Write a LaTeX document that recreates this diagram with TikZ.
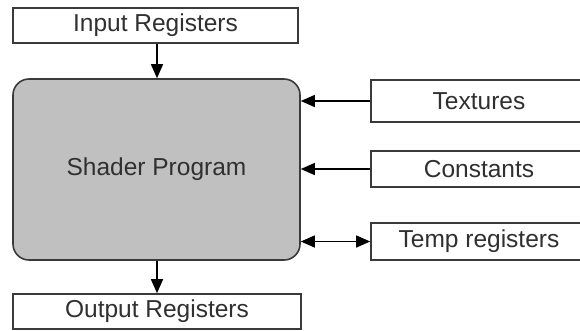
\documentclass[tikz,border=0pt]{standalone}
\usepackage{fontspec}
\setmainfont{Liberation Sans}
\usepackage{tikz}
\usetikzlibrary{arrows.meta}
\definecolor{boxline}{HTML}{3A3A3A}
\definecolor{progfill}{HTML}{C0C0C0}
\definecolor{labeltext}{HTML}{303030}

\begin{document}
\begin{tikzpicture}[x=1pt, y=-1pt,
  regbox/.style={draw=boxline, line width=1.6pt, fill=white, inner sep=0pt,
    font=\fontsize{24.5}{28}\selectfont, text=labeltext},
  flow/.style={line width=1.4pt, -{Triangle[length=14pt, width=12pt]}}]
\clip (0,0) rectangle (580,330);
\fill[white] (0,0) rectangle (580,330);
% left column
\node[regbox, minimum width=285pt, minimum height=35pt] (input) at (155.5,25.5) {Input Registers};
\node[regbox, fill=progfill, rounded corners=16pt, minimum width=287pt, minimum height=181pt] (shader) at (156.5,169.5) {Shader Program};
\node[regbox, minimum width=288pt, minimum height=35pt] (output) at (157,311.5) {Output Registers};
% right column
\node[regbox, minimum width=216pt, minimum height=42pt] (textures) at (479,101) {Textures};
\node[regbox, minimum width=216pt, minimum height=36pt] (constants) at (479,169) {Constants};
\node[regbox, minimum width=216pt, minimum height=37pt] (temp) at (479,241.5) {Temp registers};
% connectors
\draw[flow] (input.south -| 157,0) -- (157,0 |- shader.north);
\draw[flow] (157,0 |- shader.south) -- (157,0 |- output.north);
\draw[flow] (textures.west) -- (shader.east |- textures.west);
\draw[flow] (constants.west) -- (shader.east |- constants.west);
\draw[flow, {Triangle[length=14pt, width=12pt]}-{Triangle[length=14pt, width=12pt]}] (shader.east |- temp.west) -- (temp.west);
\end{tikzpicture}
\end{document}
